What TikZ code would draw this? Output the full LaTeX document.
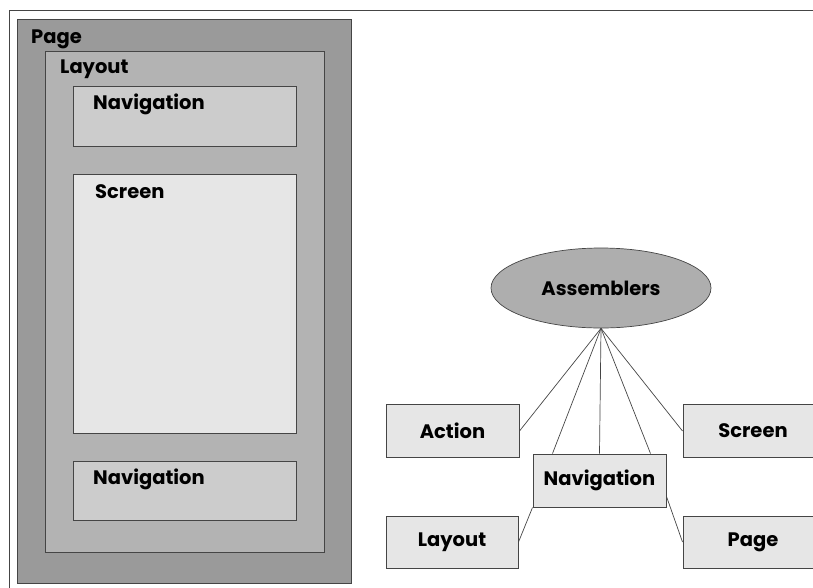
\documentclass[tikz,border=0pt]{standalone}
\usepackage{fontspec}
\setmainfont{Poppins}
\usepackage{tikz}
\usetikzlibrary{shapes.geometric}
\definecolor{pagegray}{HTML}{9A9A9A}
\definecolor{layoutgray}{HTML}{B3B3B3}
\definecolor{navgray}{HTML}{CCCCCC}
\definecolor{lightgray}{HTML}{E6E6E6}
\definecolor{edgegray}{HTML}{454545}
\begin{document}
\begin{tikzpicture}[x=1pt,y=-1pt,
  every node/.style={font=\fontsize{19.5}{22}\selectfont\bfseries},
  panel/.style={draw=edgegray,line width=1pt,inner sep=0pt},
  tag/.style={anchor=west,inner sep=0pt},
  part/.style={draw=edgegray,line width=1pt,fill=lightgray,minimum width=133,minimum height=53,inner sep=0pt},
  link/.style={draw=edgegray,line width=0.7pt}
]
  \useasboundingbox (0,0) rectangle (813,587);
  \draw[edgegray,line width=1pt] (9,10) rectangle (840,620);
  \node[panel,fill=pagegray,minimum width=334,minimum height=564] (page) at (184,301) {};
  \node[panel,fill=layoutgray,minimum width=279,minimum height=501] (layout) at (184.5,301.5) {};
  \node[panel,fill=navgray,minimum width=223,minimum height=60] (navtop) at (184.5,116) {};
  \node[panel,fill=lightgray,minimum width=223,minimum height=259] (screen) at (184.5,303.5) {};
  \node[panel,fill=navgray,minimum width=223,minimum height=59] (navbot) at (184.5,490.5) {};
  \node[tag] (pagetag) at (31,39) {Page};
  \node[tag] (layouttag) at (60,69) {Layout};
  \node[tag] (navtoptag) at (93,104) {Navigation};
  \node[tag] (screentag) at (95,192) {Screen};
  \node[tag] (navbottag) at (93,479) {Navigation};
  \node[ellipse,draw=edgegray,line width=0.7pt,fill=pagegray!80!white,minimum width=220,minimum height=80,inner sep=0pt] (asm) at (601,288) {Assemblers};
  \node[part] (action) at (452.5,431) {Action};
  \node[part,minimum width=140] (scr) at (753,431) {Screen};
  \node[part] (nav) at (599.5,480.5) {Navigation};
  \node[part,minimum width=132,minimum height=52] (lay) at (452,542) {Layout};
  \node[part,minimum width=140,minimum height=52] (pg) at (753,542) {Page};
  \draw[link] (asm.south) -- (action.east);
  \draw[link] (asm.south) -- ([xshift=-47]nav.north);
  \draw[link] (asm.south) -- (nav.north);
  \draw[link] (asm.south) -- ([xshift=51]nav.north);
  \draw[link] (asm.south) -- (scr.west);
  \draw[link] (nav.south west) -- (lay.east);
  \draw[link] ([yshift=-16]nav.east) -- (pg.west);
\end{tikzpicture}
\end{document}
